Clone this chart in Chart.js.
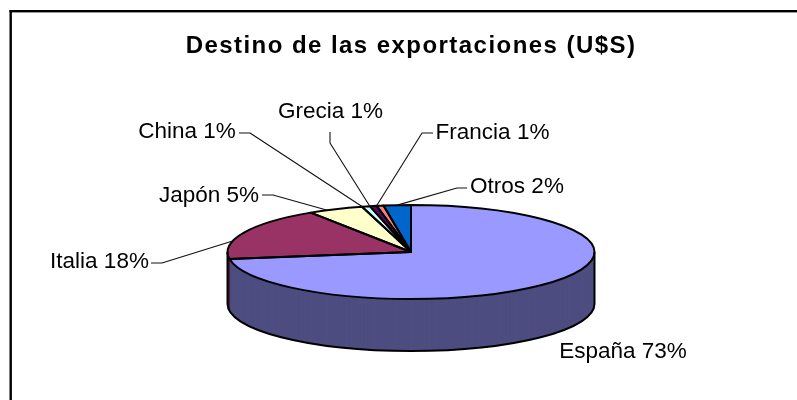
<!DOCTYPE html>
<html>
<head>
<meta charset="utf-8">
<style>
html,body{margin:0;padding:0;background:#fff}
#wrap{position:absolute;left:0;top:0;width:797px;height:400px}
</style>
<script src="https://cdn.jsdelivr.net/npm/chart.js@4"></script>
</head>
<body>
<div id="wrap"><canvas id="c" width="797" height="400"></canvas></div>
<script>
const chartTitle = 'Destino de las exportaciones (U$S)';
const categories = ['España', 'Italia', 'Japón', 'China', 'Grecia', 'Francia', 'Otros'];
const shareLabels = ['73%', '18%', '5%', '1%', '1%', '1%', '2%'];
const values = [72.6, 18.2, 4.9, 0.7, 0.6, 0.6, 2.4];
const topColors = ['#9999FF', '#993366', '#FFFFCC', '#CCFFFF', '#660066', '#FF8080', '#0066CC'];
const sideColors = ['#4D4D80', '#4D1A33', '#80806A', '#6A8080', '#330033', '#804040', '#003366'];

// Label layout: text centre, leader elbow points, and where on the slice's rim the leader lands.
const labelCentres = [[623, 352], [99.5, 262], [209, 196], [187, 132], [330.5, 112], [492.5, 133], [517, 187]];
const leaderBends = [null, [[151, 263], [162, 263]], [[262, 195], [273, 195]], [[239, 133], [250, 133]],
  [[330, 132], [330, 143]], [[433, 133], [422, 133]], [[467, 188], [457, 188]]];
const leaderFraction = [0, 0.34, 0.34, 0.05, 0, 0, 0.5];

const PIE = {cx: 411, cy: 252, rx: 183.5, ry: 47, depth: 52};

const piePlugin = {
  id: 'tiltedPie',
  beforeDraw(chart) {
    const ctx = chart.ctx;
    ctx.save();
    ctx.fillStyle = '#000';
    ctx.fillRect(9.5, 10, 797 - 9.5, 2.4);
    ctx.fillRect(9.5, 10, 2.4, 390);
    ctx.restore();
    ctx.letterSpacing = '1.45px';
  },
  beforeDatasetDraw(chart, args) {
    const ctx = chart.ctx, arcs = chart.getDatasetMeta(args.index).data;
    ctx.letterSpacing = '0px';
    const y0 = arcs[0].y, x0 = arcs[0].x, k = PIE.ry / arcs[0].outerRadius;
    const place = (dy) => {
      ctx.translate(PIE.cx, PIE.cy + dy);
      ctx.scale(1, k);
      ctx.translate(-x0, -y0);
    };
    // side wall: the library's own arcs repeated downward in the darker colours
    for (let d = PIE.depth; d >= 1; d--) {
      ctx.save();
      place(d);
      arcs.forEach((arc, i) => {
        const o = arc.options;
        arc.options = Object.assign({}, o, {backgroundColor: sideColors[i], borderWidth: 0});
        arc.draw(ctx);
        arc.options = o;
      });
      ctx.restore();
    }
    ctx.save();
    place(0);
  },
  afterDatasetDraw(chart, args) {
    const ctx = chart.ctx, arcs = chart.getDatasetMeta(args.index).data;
    ctx.restore();
    const {cx, cy, rx, ry, depth} = PIE;
    ctx.save();
    ctx.strokeStyle = '#000';
    ctx.lineWidth = 2;
    ctx.lineJoin = 'round';
    // wall outline
    ctx.beginPath();
    ctx.moveTo(cx - rx, cy);
    ctx.lineTo(cx - rx, cy + depth);
    ctx.ellipse(cx, cy + depth, rx, ry, 0, Math.PI, 0, true);
    ctx.lineTo(cx + rx, cy);
    ctx.stroke();
    // slice outlines
    arcs.forEach((arc) => {
      ctx.beginPath();
      ctx.moveTo(cx, cy);
      ctx.ellipse(cx, cy, rx, ry, 0, arc.startAngle, arc.endAngle);
      ctx.closePath();
      ctx.stroke();
    });
    // leaders and labels
    ctx.lineWidth = 1.1;
    ctx.strokeStyle = '#111';
    ctx.fillStyle = '#000';
    ctx.font = '22.5px "Liberation Sans", Arial, sans-serif';
    ctx.textAlign = 'center';
    ctx.textBaseline = 'middle';
    arcs.forEach((arc, i) => {
      ctx.fillText(categories[i] + ' ' + shareLabels[i], labelCentres[i][0], labelCentres[i][1]);
      if (!leaderBends[i]) return;
      const a = arc.startAngle + (arc.endAngle - arc.startAngle) * leaderFraction[i];
      const ex = cx + rx * Math.cos(a), ey = cy + ry * Math.sin(a);
      ctx.beginPath();
      ctx.moveTo(leaderBends[i][0][0], leaderBends[i][0][1]);
      ctx.lineTo(leaderBends[i][1][0], leaderBends[i][1][1]);
      ctx.lineTo(ex, ey);
      ctx.stroke();
    });
    ctx.restore();
  }
};

new Chart(document.getElementById('c'), {
  type: 'pie',
  data: {
    labels: categories,
    datasets: [{
      data: values,
      backgroundColor: topColors,
      borderWidth: 0,
      radius: PIE.rx
    }]
  },
  options: {
    responsive: false,
    animation: false,
    layout: {padding: {left: 25, right: 0, top: 0, bottom: 0}},
    plugins: {
      legend: {display: false},
      tooltip: {enabled: false},
      title: {
        display: true,
        text: chartTitle,
        fullSize: false,
        color: '#000',
        font: {family: '"Liberation Sans", Arial, sans-serif', size: 24, weight: 'bold'},
        padding: {top: 32, bottom: 10}
      }
    }
  },
  plugins: [piePlugin]
});
</script>
</body>
</html>
